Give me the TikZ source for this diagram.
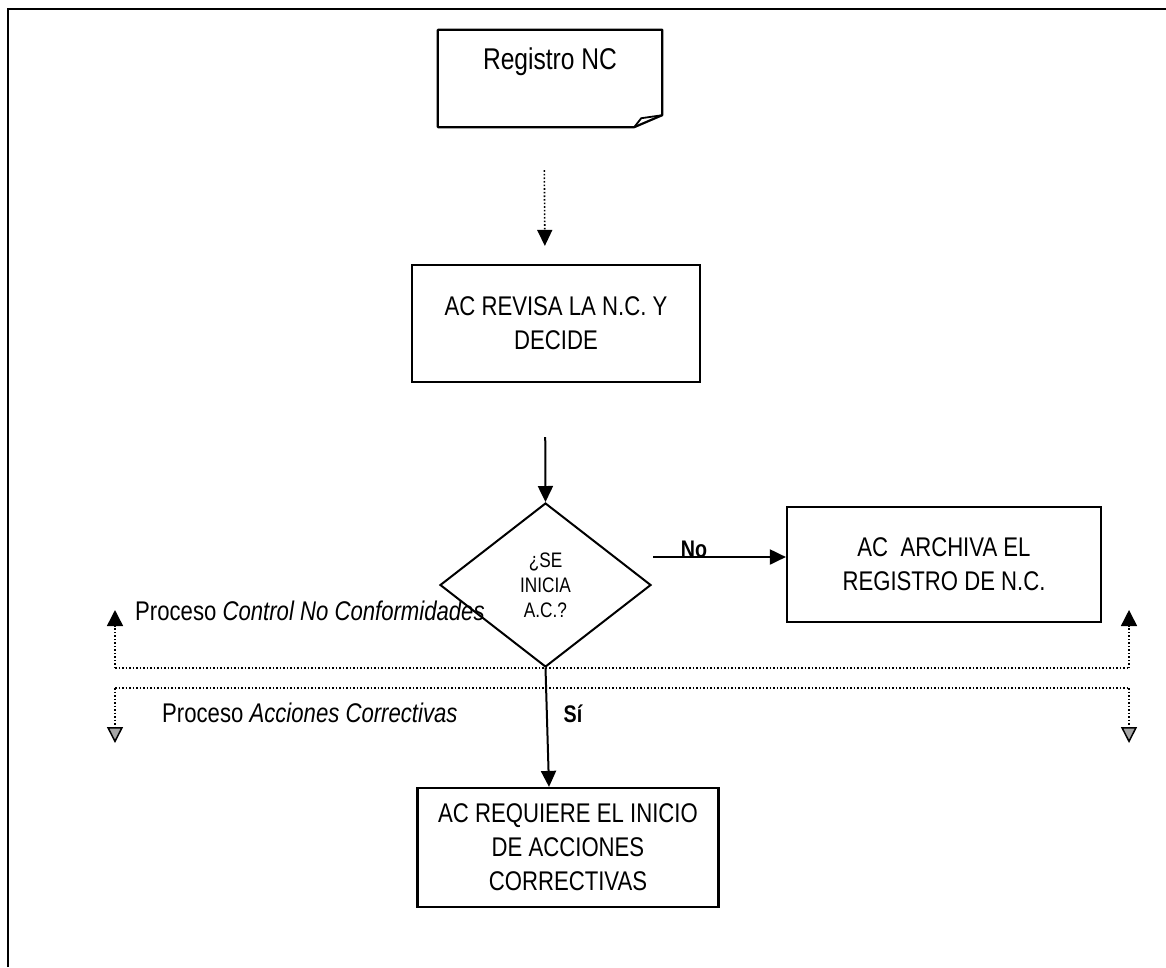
\documentclass[tikz,border=0pt]{standalone}
\usepackage{fontspec}
\setmainfont{Liberation Sans}[FakeStretch=0.82]
\usetikzlibrary{arrows.meta,shapes.geometric}
\begin{document}
\begin{tikzpicture}[x=1pt,y=-1pt,
  box/.style={draw,line width=2.2pt,inner sep=0pt,align=center,font=\fontsize{27}{34}\selectfont},
  flow/.style={line width=2pt,-{Triangle[width=15pt,length=16pt]}},
  dflow/.style={line width=1.6pt,dotted,-{Triangle[width=15pt,length=16pt]}},
  sep/.style={line width=1.5pt,dotted},
  uptip/.style={line width=1.5pt,dotted,-{Triangle[width=16pt,length=16pt]}},
  downtip/.style={line width=1.5pt,dotted,-{Triangle[open,width=16pt,length=16pt,fill=black!35]}},
  lbl/.style={anchor=west,inner sep=0pt,font=\fontsize{27}{30}\selectfont},
  yesno/.style={inner sep=0pt,font=\bfseries\fontsize{24}{26}\selectfont}]
\useasboundingbox (0,0) rectangle (1166,967);
% page frame
\draw[line width=1.8pt] (8,967) -- (8,9) -- (1166,9);

% document symbol with folded corner
\node[minimum width=224pt,minimum height=97pt,inner sep=0pt] (reg) at (550,78.5) {};
\node[inner sep=0pt,font=\fontsize{30}{32}\selectfont] at (550,62) {Registro NC};
\draw[line width=2.2pt,line join=round]
  (reg.north west) -- (reg.north east) -- ([yshift=12pt]reg.south east)
  -- ([xshift=-28pt]reg.south east) -- (reg.south west) -- cycle;
\draw[line width=1.8pt,line join=round]
  ([xshift=-28pt]reg.south east) -- ([xshift=-21pt,yshift=9pt]reg.south east)
  -- ([yshift=12pt]reg.south east);

% process boxes
\node[box,minimum width=288pt,minimum height=117pt] (rev) at (556,323.5)
  {AC REVISA LA N.C. Y\\DECIDE};
\node[draw,diamond,line width=2pt,inner sep=0pt,minimum width=211pt,minimum height=164pt,
  align=center,font=\fontsize{21}{25}\selectfont] (dec) at (545.5,585) {¿SE\\INICIA\\A.C.?};
\node[box,minimum width=314pt,minimum height=115pt] (arc) at (944,564.5)
  {AC\ \ ARCHIVA EL\\REGISTRO DE N.C.};
\node[box,minimum width=301pt,minimum height=119pt] (req) at (568,847.5)
  {AC REQUIERE EL INICIO\\DE ACCIONES\\CORRECTIVAS};

% connectors
\draw[dflow,shorten <=43pt,shorten >=18pt] ([xshift=-6pt]reg.south) -- ([xshift=-11pt]rev.north);
\draw[flow,shorten <=54pt] ([xshift=-11pt]rev.south) -- (dec.north);
\draw[flow] ([xshift=1pt,yshift=28pt]dec.east) -- ([yshift=7.5pt]arc.west);
\node[yesno,anchor=base] at (694,557) {No};
\draw[flow] (dec.south) -- ([xshift=-19pt]req.north);
\node[yesno] at (573,714) {Sí};

% boundary between the two processes
\coordinate (ul) at (115,668);
\coordinate (ur) at (1129,668);
\coordinate (ll) at (115,688);
\coordinate (lr) at (1129,688);
\draw[sep] (ul) -- (ur);
\draw[sep] (ll) -- (lr);
\draw[uptip] (ul) -- ++(0,-58);
\draw[uptip] (ur) -- ++(0,-58);
\draw[downtip] (ll) -- ++(0,55);
\draw[downtip] (lr) -- ++(0,55);
\node[lbl] (p1) at (135,611) {Proceso \textit{Control No Conformidades}};
\node[lbl] (p2) at (162,713) {Proceso \textit{Acciones Correctivas}};
\end{tikzpicture}
\end{document}
